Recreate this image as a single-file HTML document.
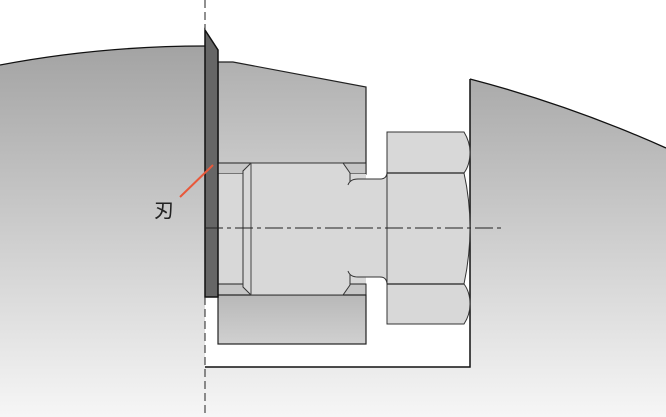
<!DOCTYPE html>
<html><head><meta charset="utf-8"><style>
html,body{margin:0;padding:0;background:#fff;}
svg{display:block;}
</style></head><body>
<svg width="666" height="417" viewBox="0 0 666 417" xmlns="http://www.w3.org/2000/svg">
<defs>
<linearGradient id="bg" gradientUnits="userSpaceOnUse" x1="0" y1="50" x2="0" y2="417">
<stop offset="0" stop-color="#a4a4a4"/><stop offset="1" stop-color="#f6f6f6"/></linearGradient>
<linearGradient id="blk" gradientUnits="userSpaceOnUse" x1="0" y1="62" x2="0" y2="163">
<stop offset="0" stop-color="#b0b0b0"/><stop offset="1" stop-color="#c8c8c8"/></linearGradient>
<linearGradient id="blk2" gradientUnits="userSpaceOnUse" x1="0" y1="295" x2="0" y2="344">
<stop offset="0" stop-color="#b8b8b8"/><stop offset="1" stop-color="#d0d0d0"/></linearGradient>
</defs>
<path d="M0,65 Q100,46 205,46 L205,417 L0,417 Z" fill="url(#bg)"/>
<path d="M470,79 Q570,105 666,148 L666,417 L470,417 Z" fill="url(#bg)"/>
<rect x="205" y="367" width="265" height="50" fill="url(#bg)"/>
<path d="M0,65 Q100,46 205,46" fill="none" stroke="#111" stroke-width="1.3"/>
<path d="M470,79 Q570,105 666,148" fill="none" stroke="#111" stroke-width="1.3"/>
<path d="M470,79 L470,367 L205,367" fill="none" stroke="#111" stroke-width="1.5"/>
<path d="M218,62 L233,62 L366,87 L366,174 L218,174 Z" fill="url(#blk)" stroke="#222" stroke-width="1.2"/>
<rect x="218" y="163" width="148" height="11" fill="#c6c6c6" stroke="#222" stroke-width="1"/>
<rect x="218" y="174" width="148" height="111" fill="#d8d8d8"/>
<rect x="218" y="284" width="148" height="11" fill="#c6c6c6" stroke="#222" stroke-width="1"/>
<rect x="218" y="295" width="148" height="49" fill="url(#blk2)" stroke="#222" stroke-width="1.2"/>
<path d="M251,163 L343,163 L350,173 L350,285 L343,295 L251,295 L243,287 L243,171 Z" fill="#d8d8d8" stroke="#333" stroke-width="1"/>
<line x1="251" y1="163" x2="251" y2="295" stroke="#444" stroke-width="1"/>
<path d="M348,185 Q350,179 358,179 L380,179 Q387,179 387,172 L387,285 Q387,277 380,277 L358,277 Q350,277 348,271 Z" fill="#d8d8d8"/>
<path d="M348,185 Q350,179 358,179 L380,179 Q387,179 387,172 M348,271 Q350,277 358,277 L380,277 Q387,277 387,285" fill="none" stroke="#333" stroke-width="1"/>
<path d="M387,132 L464,132 Q470,142 470,152 Q470,165 464,173 Q470,200 470,228 Q470,256 464,284 Q470,292 470,304 Q470,315 464,324 L387,324 Z" fill="#d8d8d8" stroke="#333" stroke-width="1"/>
<line x1="387" y1="173" x2="464" y2="173" stroke="#222" stroke-width="1.2"/>
<line x1="387" y1="284" x2="464" y2="284" stroke="#222" stroke-width="1.2"/>
<path d="M205,30 L218,50 L218,297 L205,297 Z" fill="#666" stroke="#111" stroke-width="1.5"/>
<line x1="205" y1="228" x2="505" y2="228" stroke="#222" stroke-width="1" stroke-dasharray="18,4,4,4"/>
<line x1="205" y1="0" x2="205" y2="30" stroke="#222" stroke-width="1" stroke-dasharray="8,4"/>
<line x1="205" y1="297" x2="205" y2="417" stroke="#222" stroke-width="1" stroke-dasharray="8,4"/>
<line x1="213" y1="165" x2="180" y2="197" stroke="#e8583a" stroke-width="2"/>
<text x="154" y="217" font-family="'Liberation Sans','Noto Sans CJK JP',sans-serif" font-size="20" fill="#222">刃</text>
</svg>
</body></html>
